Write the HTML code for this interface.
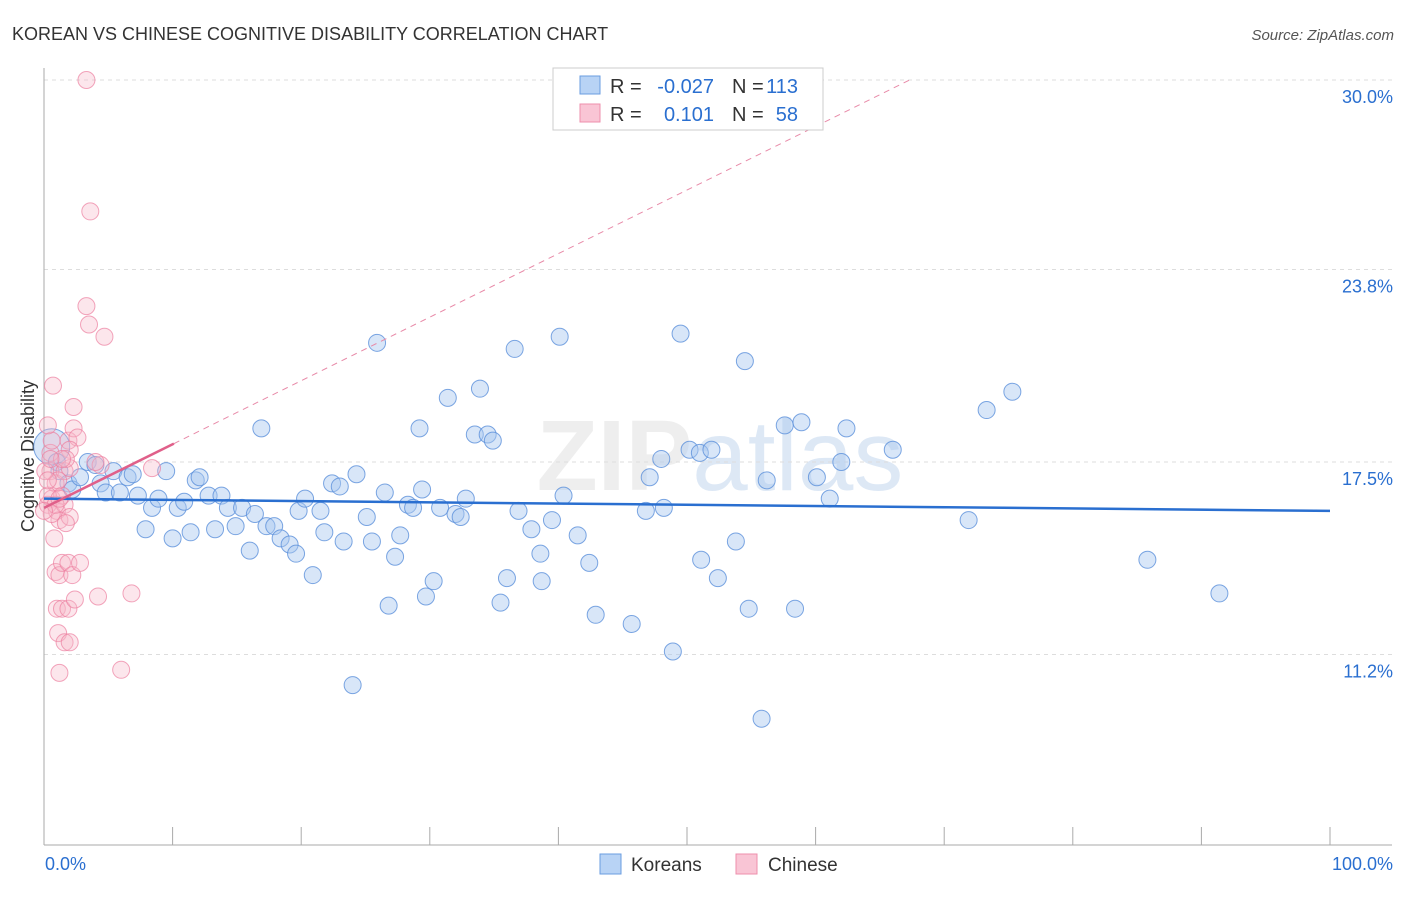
<!DOCTYPE html>
<html><head><meta charset="utf-8"><style>
body{margin:0;background:#fff;font-family:"Liberation Sans",sans-serif}
svg text{font-family:"Liberation Sans",sans-serif}
</style></head><body>
<svg id="c" width="1406" height="892">
<text x="12" y="40" font-size="18" fill="#333">KOREAN VS CHINESE COGNITIVE DISABILITY CORRELATION CHART</text>
<text x="1394" y="40" font-size="15" fill="#555" font-style="italic" text-anchor="end">Source: ZipAtlas.com</text>
<text x="720" y="490" font-size="100" fill="#e4e4e4" opacity="0.6" text-anchor="middle" font-family="Liberation Serif"><tspan font-weight="bold">ZIP</tspan><tspan fill="#c8daf0" font-family="Liberation Sans">atlas</tspan></text>
<text transform="translate(34,456) rotate(-90)" font-size="18" fill="#333" text-anchor="middle">Cognitive Disability</text>
<g id="grid"></g><g id="marks"></g>
<g>
<rect x="553" y="68" width="270" height="62" fill="#fff" stroke="#ccc"/>
<rect x="580" y="76" width="20" height="18" fill="#b8d3f5" stroke="#6a9de0"/>
<rect x="580" y="104" width="20" height="18" fill="#f9c5d5" stroke="#ee8fac"/>
<text x="610" y="93" font-size="20" fill="#333">R =</text>
<text x="714" y="93" font-size="20" fill="#2a6fd0" text-anchor="end">-0.027</text>
<text x="732" y="93" font-size="20" fill="#333">N =</text>
<text x="798" y="93" font-size="20" fill="#2a6fd0" text-anchor="end">113</text>
<text x="610" y="121" font-size="20" fill="#333">R =</text>
<text x="714" y="121" font-size="20" fill="#2a6fd0" text-anchor="end">0.101</text>
<text x="732" y="121" font-size="20" fill="#333">N =</text>
<text x="798" y="121" font-size="20" fill="#2a6fd0" text-anchor="end">58</text>
</g>
<g>
<rect x="600" y="854" width="21" height="20" fill="#b8d3f5" stroke="#6a9de0"/>
<text x="631" y="871" font-size="19" fill="#333">Koreans</text>
<rect x="736" y="854" width="21" height="20" fill="#f9c5d5" stroke="#ee8fac"/>
<text x="768" y="871" font-size="19" fill="#333">Chinese</text>
</g>
</svg>
<script>
const yTicks=[30.0,23.8,17.5,11.2];
const xLabels=["0.0%","100.0%"];
const koreanX=[0.6,1.0,1.2,1.9,2.2,2.8,3.4,4.0,4.4,4.8,5.4,5.9,6.5,6.9,7.3,7.9,8.4,8.9,9.5,10.0,10.4,10.9,11.4,11.8,12.1,12.8,13.3,13.8,14.3,14.9,15.4,16.0,16.4,16.9,17.3,17.9,18.4,19.1,19.6,19.8,20.3,20.9,21.5,21.8,22.4,23.0,23.3,24.0,24.3,25.1,25.5,25.9,26.5,26.8,27.3,27.7,28.3,28.7,29.2,29.4,29.7,30.3,30.8,31.4,32.0,32.4,32.8,33.5,33.9,34.5,34.9,35.5,36.0,36.6,36.9,37.9,38.6,38.7,39.5,40.1,40.4,41.5,42.4,42.9,45.7,46.8,47.1,48.0,48.2,48.9,49.5,50.2,51.1,51.0,51.9,52.4,53.8,54.5,54.8,55.8,56.2,57.6,58.4,58.9,60.1,61.1,62.0,62.4,66.0,71.9,73.3,75.3,85.8,91.4];
const koreanY=[18.0,17.5,17.2,16.8,16.6,17.0,17.5,17.4,16.8,16.5,17.2,16.5,17.0,17.1,16.4,15.3,16.0,16.3,17.2,15.0,16.0,16.2,15.2,16.9,17.0,16.4,15.3,16.4,16.0,15.4,16.0,14.6,15.8,18.6,15.4,15.4,15.0,14.8,14.5,15.9,16.3,13.8,15.9,15.2,16.8,16.7,14.9,10.2,17.1,15.7,14.9,21.4,16.5,12.8,14.4,15.1,16.1,16.0,18.6,16.6,13.1,13.6,16.0,19.6,15.8,15.7,16.3,18.4,19.9,18.4,18.2,12.9,13.7,21.2,15.9,15.3,14.5,13.6,15.6,21.6,16.4,15.1,14.2,12.5,12.2,15.9,17.0,17.6,16.0,11.3,21.7,17.9,14.3,17.8,17.9,13.7,14.9,20.8,12.7,9.1,16.9,18.7,12.7,18.8,17.0,16.3,17.5,18.6,17.9,15.6,19.2,19.8,14.3,13.2];
const chineseX=[0.5,0.6,0.7,0.3,0.5,0.9,0.6,1.0,1.2,1.4,1.6,2.0,1.9,2.3,2.3,2.6,2.0,1.7,0.8,0.9,1.2,1.4,1.9,2.2,2.8,1.0,1.4,1.9,2.4,4.2,1.1,1.6,2.0,1.2,3.3,3.6,3.3,3.5,4.7,6.0,6.8,8.4,4.4,4.0,0.3,0.6,1.6,2.0,0.3,1.1,1.4,0.1,0.3,0.5,0.9,1.7,0.0,1.2];
const chineseY=[17.8,18.2,20.0,18.7,17.2,16.8,16.3,15.9,15.6,16.4,17.2,17.3,18.2,19.3,18.6,18.3,17.9,17.6,15.0,13.9,13.8,14.2,14.2,13.8,14.2,12.7,12.7,12.7,13.0,13.1,11.9,11.6,11.6,10.6,30.0,25.7,22.6,22.0,21.6,10.7,13.2,17.3,17.4,17.5,16.1,15.8,16.1,15.7,16.4,16.9,17.6,17.2,16.9,17.6,16.1,15.5,15.9,16.3];
const koreanTrend=[16.3,15.9];
const chineseTrend=[16.0,0.208];
const X=v=>44+v*12.86, Y=v=>80+(30-v)*30.56;
const NS='http://www.w3.org/2000/svg';
function mk(t,a,p){const e=document.createElementNS(NS,t);for(const k in a)e.setAttribute(k,a[k]);p.appendChild(e);return e;}
const g=document.getElementById('grid'), m=document.getElementById('marks');
yTicks.forEach(t=>{
 const l=mk('line',{x1:44,x2:1392,y1:Y(t),y2:Y(t),stroke:'#ddd','stroke-dasharray':'4,4'},g);
 
 
 const tx=mk('text',{x:1393,y:Y(t)+23,'font-size':18,fill:'#2a6fd0','text-anchor':'end'},g);
 tx.textContent=t.toFixed(1)+'%';
 
 
});
let ax=mk('line',{x1:44,x2:44,y1:68,y2:845,stroke:'#aaa'},g);


ax=mk('line',{x1:44,x2:1392,y1:845,y2:845,stroke:'#aaa'},g);


for(let i=0;i<=10;i++){const tk=mk('line',{x1:X(i*10),x2:X(i*10),y1:827,y2:845,stroke:'#aaa'},g);
 
 }
[[0,'start',45],[100,'end',1393]].forEach((d,i)=>{const tx=mk('text',{x:d[2],y:870,'font-size':18,fill:'#2a6fd0','text-anchor':d[1]},g);tx.textContent=xLabels[i];
 
 });
koreanX.forEach((x,i)=>{const c=mk('circle',{cx:X(x),cy:Y(koreanY[i]),r:i==0?18:8.5,fill:'#a9c8f0',"fill-opacity":0.45,stroke:'#5b90db','stroke-opacity':0.8},m);
 
 });
chineseX.forEach((x,i)=>{const c=mk('circle',{cx:X(x),cy:Y(chineseY[i]),r:8.5,fill:'#f7b6c9',"fill-opacity":0.35,stroke:'#ec7fa0','stroke-opacity':0.7},m);
 
 });
let ln=mk('line',{x1:X(0),y1:Y(koreanTrend[0]),x2:X(100),y2:Y(koreanTrend[1]),stroke:'#2a6fd0','stroke-width':2.5},m);


const xEnd=(30-chineseTrend[0])/chineseTrend[1];
ln=mk('line',{x1:X(10.1),y1:Y(chineseTrend[0]+chineseTrend[1]*10.1),x2:X(xEnd),y2:Y(30),stroke:'#e88aa8','stroke-width':1,'stroke-dasharray':'6,5'},m);


ln=mk('line',{x1:X(0),y1:Y(chineseTrend[0]),x2:X(10.1),y2:Y(chineseTrend[0]+chineseTrend[1]*10.1),stroke:'#e0608a','stroke-width':2.5},m);


</script>
</body></html>
